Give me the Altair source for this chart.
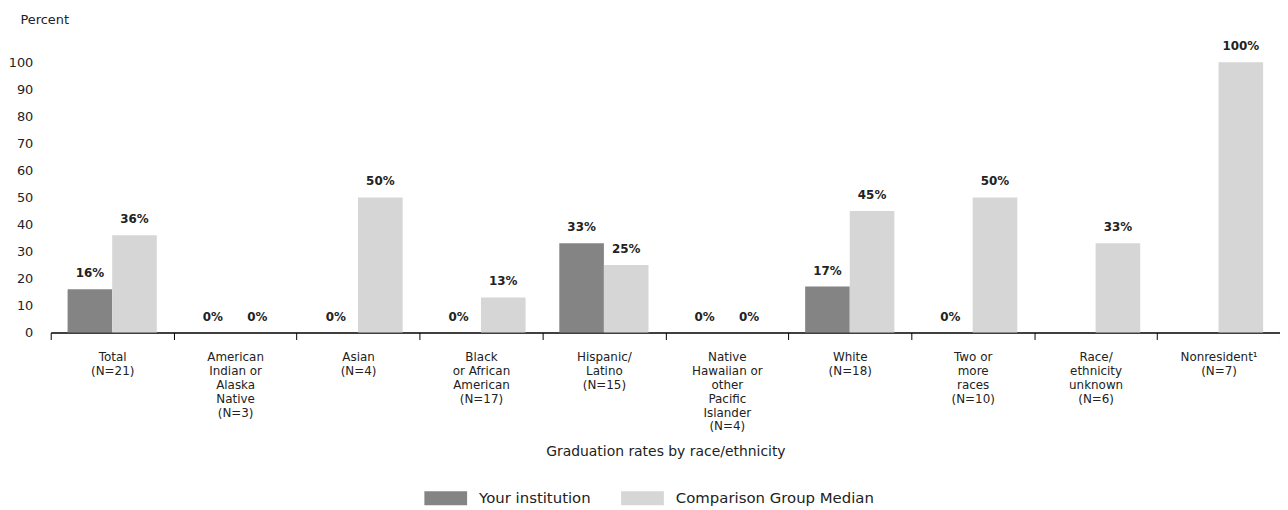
import altair as alt
import pandas as pd

categories = [
    "Total|(N=21)",
    "American|Indian or|Alaska|Native|(N=3)",
    "Asian|(N=4)",
    "Black|or African|American|(N=17)",
    "Hispanic/|Latino|(N=15)",
    "Native|Hawaiian or|other|Pacific|Islander|(N=4)",
    "White|(N=18)",
    "Two or|more|races|(N=10)",
    "Race/|ethnicity|unknown|(N=6)",
    "Nonresident¹|(N=7)",
]
institution = [16, 0, 0, 0, 33, 0, 17, 0, None, None]
comparison = [36, 0, 50, 13, 25, 0, 45, 50, 33, 100]
series = ["Your institution", "Comparison Group Median"]
colors = ["#848484", "#d6d6d6"]
y_ticks = [0, 10, 20, 30, 40, 50, 60, 70, 80, 90, 100]

rows = []
for cat, a, b in zip(categories, institution, comparison):
    rows.append({"category": cat, "series": series[0], "value": a,
                 "label": None if a is None else f"{a}%"})
    rows.append({"category": cat, "series": series[1], "value": b,
                 "label": None if b is None else f"{b}%"})
df = pd.DataFrame(rows)

FONT = "DejaVu Sans"

base = alt.Chart(df).encode(
    x=alt.X(
        "category:N",
        sort=categories,
        scale=alt.Scale(paddingInner=0, paddingOuter=0),
        axis=alt.Axis(
            title="Graduation rates by race/ethnicity",
            labelExpr="split(datum.label, '|')",
            labelAngle=0,
            labelOverlap=False,
            tickBand="extent",
            tickSize=7,
            tickColor="#000",
            tickWidth=1,
            domainColor="#000",
            domainWidth=1.5,
            labelFont=FONT,
            labelFontSize=12,
            labelLineHeight=14,
            labelPadding=12,
            labelColor="#222",
            titleFont=FONT,
            titleFontSize=14,
            titleFontWeight="normal",
            titleColor="#222",
            titleY=120,
            titleBaseline="middle",
        ),
    ),
    xOffset=alt.XOffset(
        "series:N", sort=series,
        scale=alt.Scale(domain=series, paddingInner=0, paddingOuter=0.378),
    ),
    y=alt.Y(
        "value:Q",
        scale=alt.Scale(domain=[0, 100], nice=False),
        axis=alt.Axis(
            values=y_ticks,
            title="Percent",
            titleAngle=0,
            titleAlign="left",
            titleBaseline="top",
            titleX=-31,
            titleY=-49,
            titleFont=FONT,
            titleFontSize=13,
            titleFontWeight="normal",
            titleColor="#222",
            domain=False,
            ticks=False,
            grid=False,
            labelFont=FONT,
            labelFontSize=13,
            labelColor="#222",
            labelPadding=18,
        ),
    ),
)

bars = base.mark_bar().encode(
    color=alt.Color(
        "series:N",
        sort=series,
        scale=alt.Scale(domain=series, range=colors),
        legend=alt.Legend(
            title=None,
            orient="none",
            legendX=376,
            legendY=417,
            direction="horizontal",
            symbolType="M-1,-0.33H1V0.33H-1Z",
            symbolSize=1849,
            symbolStrokeWidth=0,
            labelFont=FONT,
            labelFontSize=15,
            labelColor="#222",
            labelOffset=12,
            labelLimit=0,
            columnPadding=30,
            padding=0,
        ),
    )
)

text = base.transform_filter("isValid(datum.value)").mark_text(
    baseline="alphabetic", dy=-12, font=FONT, fontSize=12, fontWeight="bold", color="#222"
).encode(text="label:N")

chart = alt.layer(bars, text).properties(
    width=1237,
    height=272,
    autosize=alt.AutoSizeParams(type="none"),
    padding={"left": 43, "top": 53, "right": 0, "bottom": 177},
).configure_view(stroke=None)

chart.save("out.html", embed_options={"renderer": "svg", "actions": False})
